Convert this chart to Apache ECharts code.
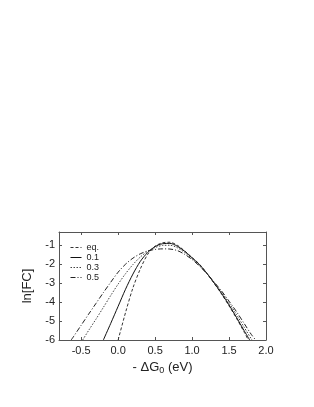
<!DOCTYPE html>
<html><head><meta charset="utf-8">
<script src="https://cdn.jsdelivr.net/npm/echarts@6/dist/echarts.min.js"></script>
<style>html,body{margin:0;padding:0;background:#fff}#c{width:314px;height:407px}</style>
</head><body><div id="c"></div>
<script>
const seriesNames = ['eq.', '0.1', '0.3', '0.5'];
const xEq  = [0.0, 0.1, 0.2, 0.3, 0.4, 0.5, 0.6, 0.7, 0.8, 0.9, 1.0, 1.1, 1.2, 1.3, 1.4, 1.5, 1.6, 1.7, 1.76];
const yEq  = [-6.0, -4.55, -3.25, -2.25, -1.48, -1.05, -0.87, -0.84, -1.0, -1.3, -1.65, -2.0, -2.48, -3.02, -3.58, -4.2, -4.85, -5.55, -6.0];
const x01  = [-0.2, -0.1, 0.0, 0.1, 0.2, 0.3, 0.4, 0.5, 0.6, 0.7, 0.8, 0.9, 1.0, 1.1, 1.2, 1.3, 1.4, 1.5, 1.6, 1.7, 1.78];
const y01  = [-6.0, -5.12, -4.22, -3.32, -2.52, -1.85, -1.38, -1.07, -0.92, -0.9, -1.05, -1.32, -1.66, -2.02, -2.48, -3.0, -3.55, -4.15, -4.8, -5.48, -6.0];
const x03  = [-0.48, -0.4, -0.3, -0.2, -0.1, 0.0, 0.1, 0.2, 0.3, 0.4, 0.5, 0.6, 0.7, 0.8, 0.9, 1.0, 1.1, 1.2, 1.3, 1.4, 1.5, 1.6, 1.7, 1.81];
const y03  = [-6.0, -5.5, -4.9, -4.28, -3.65, -3.05, -2.5, -2.02, -1.62, -1.32, -1.12, -1.01, -1.0, -1.13, -1.38, -1.7, -2.05, -2.48, -2.97, -3.48, -4.05, -4.65, -5.3, -6.0];
const x05  = [-0.635, -0.6, -0.5, -0.4, -0.3, -0.2, -0.1, 0.0, 0.1, 0.2, 0.3, 0.4, 0.5, 0.6, 0.7, 0.8, 0.9, 1.0, 1.1, 1.2, 1.3, 1.4, 1.5, 1.6, 1.7, 1.8, 1.86];
const y05  = [-6.0, -5.8, -5.22, -4.64, -4.07, -3.5, -2.95, -2.42, -2.0, -1.68, -1.45, -1.3, -1.22, -1.19, -1.2, -1.28, -1.48, -1.75, -2.1, -2.5, -2.95, -3.42, -3.95, -4.5, -5.1, -5.7, -6.0];
const xTicks = [-0.5, 0.0, 0.5, 1.0, 1.5, 2.0];
const yTicks = [-6, -5, -4, -3, -2, -1];

const zip = (xs, ys) => xs.map((x, i) => [x, ys[i]]);
const styles = [
  {type: [3, 2], width: 1, color: '#333'},
  {type: 'solid', width: 1, color: '#111'},
  {type: [1.5, 1.5], width: 1, color: '#444'},
  {type: [5, 2, 1, 2], width: 1, color: '#222'}
];
const data = [zip(xEq, yEq), zip(x01, y01), zip(x03, y03), zip(x05, y05)];

const axisLine = {show: true, onZero: false, lineStyle: {color: '#555', width: 1}};
const font = 'Liberation Sans';
const xBase = {type: 'value', min: -0.8, max: 2.0, splitLine: {show: false}, axisLine: axisLine};
const yBase = {type: 'value', min: -6, max: -0.3, splitLine: {show: false}, axisLine: axisLine};

const chart = echarts.init(document.getElementById('c'));
chart.setOption({
  animation: false,
  backgroundColor: '#fff',
  grid: {left: 59, right: 48, top: 232, bottom: 67, containLabel: false},
  legend: {
    data: seriesNames, orient: 'vertical', left: 65, top: 238, itemGap: 1,
    itemWidth: 11, itemHeight: 9,
    itemStyle: {opacity: 0},
    lineStyle: {width: 1},
    textStyle: {fontFamily: font, fontSize: 9, color: '#222'}
  },
  xAxis: [
    Object.assign({}, xBase, {position: 'bottom',
      name: '- ΔG{sub|0} (eV)', nameLocation: 'middle', nameGap: 20,
      nameTextStyle: {fontFamily: font, fontSize: 13, color: '#222',
        rich: {sub: {fontFamily: font, fontSize: 9, verticalAlign: 'bottom', padding: [6,0,0,0], color: '#222'}}},
      axisTick: {inside: true, length: 3, customValues: xTicks, lineStyle: {color: '#555'}},
      axisLabel: {customValues: xTicks, margin: 5, fontFamily: font, fontSize: 11, color: '#222',
        formatter: v => v.toFixed(1)}}),
    Object.assign({}, xBase, {position: 'top',
      axisTick: {inside: true, length: 3, customValues: xTicks, lineStyle: {color: '#555'}},
      axisLabel: {show: false}})
  ],
  yAxis: [
    Object.assign({}, yBase, {position: 'left',
      name: 'ln[FC]', nameLocation: 'middle', nameGap: 18, nameRotate: 90,
      nameTextStyle: {fontFamily: font, fontSize: 13, color: '#222'},
      axisTick: {inside: true, length: 3, customValues: yTicks, lineStyle: {color: '#555'}},
      axisLabel: {customValues: yTicks, margin: 4, fontFamily: font, fontSize: 11, color: '#222',
        formatter: v => String(v)}}),
    Object.assign({}, yBase, {position: 'right',
      axisTick: {inside: true, length: 3, customValues: yTicks, lineStyle: {color: '#555'}},
      axisLabel: {show: false}})
  ],
  series: seriesNames.map((n, i) => ({
    name: n, type: 'line', data: data[i], smooth: 0.3, showSymbol: false, symbol: 'none',
    xAxisIndex: 0, yAxisIndex: 0, clip: true,
    lineStyle: styles[i], itemStyle: {color: styles[i].color}
  }))
});
</script></body></html>
